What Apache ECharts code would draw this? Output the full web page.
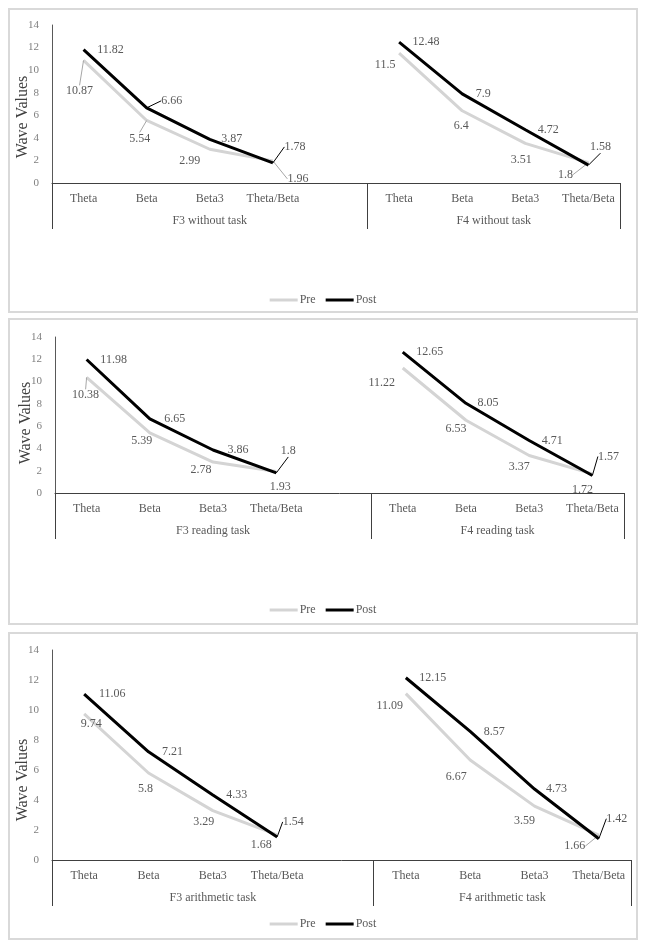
<!DOCTYPE html>
<html>
<head>
<meta charset="utf-8">
<script src="https://cdn.jsdelivr.net/npm/echarts@6/dist/echarts.min.js"></script>
<style>
  html, body { margin: 0; padding: 0; background: #fff; }
  body { width: 648px; height: 949px; position: relative; }
  .panel { position: absolute; left: 8px; width: 626px; border: 2px solid #d9d9d9; background: #fff; }
  #p1 { top: 8px; height: 301px; }
  #p2 { top: 318px; height: 303px; }
  #p3 { top: 632px; height: 304px; }
</style>
</head>
<body>
<div id="p1" class="panel"></div>
<div id="p2" class="panel"></div>
<div id="p3" class="panel"></div>
<script>
// ---- data ----
const waves = ['Theta', 'Beta', 'Beta3', 'Theta/Beta'];
const seriesNames = ['Pre', 'Post'];
const yAxisName = 'Wave Values';
const yMin = 0, yMax = 14, yStep = 2;

const groups1 = ['F3 without task', 'F4 without task'];
const pre1  = [10.87, 5.54, 2.99, 1.96, null, 11.5, 6.4, 3.51, 1.8];
const post1 = [11.82, 6.66, 3.87, 1.78, null, 12.48, 7.9, 4.72, 1.58];

const groups2 = ['F3 reading task', 'F4 reading task'];
const pre2  = [10.38, 5.39, 2.78, 1.93, null, 11.22, 6.53, 3.37, 1.72];
const post2 = [11.98, 6.65, 3.86, 1.8, null, 12.65, 8.05, 4.71, 1.57];

const groups3 = ['F3 arithmetic task', 'F4 arithmetic task'];
const pre3  = [9.74, 5.8, 3.29, 1.68, null, 11.09, 6.67, 3.59, 1.66];
const post3 = [11.06, 7.21, 4.33, 1.54, null, 12.15, 8.57, 4.73, 1.42];

// ---- label placement (pixel offsets from the point) and leader lines ----
const offsets = {
  p1: {
    pre:  [[-4,31],[-7,18],[-20,12],[25,18],null,[-14,12],[-1,15],[-4,16],[-23,12]],
    post: [[27,0],[25,-7],[22,0],[22,-16],null,[27,0],[21,0],[23,0],[12,-18]]
  },
  p2: {
    pre:  [[-1,18],[-8,8],[-12,8],[4,15],null,[-21,15],[-10,9],[-10,11],[-10,16]],
    post: [[27,0],[25,0],[25,0],[12,-22],null,[27,0],[22,0],[23,0],[16,-19]]
  },
  p3: {
    pre:  [[7,10],[-3,16],[-9,11],[-16,10],null,[-16,12],[-14,17],[-10,15],[-24,11]],
    post: [[28,0],[24,0],[24,0],[16,-15],null,[27,0],[24,0],[22,0],[18,-20]]
  }
};
const leaders = {
  p1: { pre: [0, 1, 3, 8], post: [1, 3, 8] },
  p2: { pre: [0], post: [3, 8] },
  p3: { pre: [8], post: [3, 8] }
};

const FONT = '"Liberation Serif", "Times New Roman", serif';
const TXT = '#595959';

function makeCats() {
  return waves.concat(['']).concat(waves);
}

function build(id, groups, pre, post, grid, offs, lead, nameShift) {
  const chart = echarts.init(document.getElementById(id), null, { renderer: 'canvas' });
  const cats = makeCats();
  const n = cats.length;
  const g1len = waves.length + 1;
  const mkData = (arr, ld) => arr.map((v, i) => {
    if (v === null) return null;
    return { value: v, labelLine: { show: ld.indexOf(i) >= 0 } };
  });
  const offList = [offs.pre, offs.post];
  const lineSeries = (name, arr, ld, color, leadColor, z) => ({
    name: name, type: 'line', xAxisIndex: 0,
    data: mkData(arr, ld),
    symbol: 'circle', symbolSize: 0.01, showSymbol: true, connectNulls: false,
    lineStyle: { color: color, width: 3 },
    itemStyle: { color: color },
    label: { show: true, position: 'inside', color: TXT, fontSize: 12, fontFamily: FONT },
    labelLine: { show: false, smooth: false, lineStyle: { color: leadColor, width: 1 } },
    labelLayout: function (p) {
      const o = offList[p.seriesIndex][p.dataIndex];
      return o ? { dx: o[0], dy: o[1] } : {};
    },
    emphasis: { disabled: true },
    z: z
  });
  const option = {
    animation: false,
    textStyle: { fontFamily: FONT },
    grid: Object.assign({ containLabel: false, outerBoundsMode: 'none' }, grid),
    legend: {
      data: seriesNames,
      top: 279,
      left: 'center',
      icon: 'rect',
      itemWidth: 28,
      itemHeight: 3,
      itemGap: 10,
      textStyle: { color: TXT, fontSize: 12, fontFamily: FONT, padding: [0, 0, 0, -3] }
    },
    xAxis: [
      {
        type: 'category',
        data: cats,
        boundaryGap: true,
        axisLine: { show: true, onZero: false, lineStyle: { color: '#404040', width: 1 } },
        axisTick: { show: false },
        axisLabel: { color: TXT, fontSize: 12, fontFamily: FONT, margin: 10, interval: 0 }
      },
      {
        type: 'value',
        min: 0,
        max: n,
        interval: 0.5,
        position: 'bottom',
        axisLine: { show: false, onZero: false },
        splitLine: { show: false },
        axisTick: {
          show: true,
          customValues: [0, g1len, n],
          length: 46,
          lineStyle: { color: '#404040', width: 1 }
        },
        axisLabel: {
          show: true,
          customValues: [g1len / 2, g1len + waves.length / 2],
          formatter: function (v) {
            if (Math.abs(v - g1len / 2) < 1e-6) return groups[0];
            if (Math.abs(v - (g1len + waves.length / 2)) < 1e-6) return groups[1];
            return '';
          },
          color: TXT, fontSize: 12, fontFamily: FONT, margin: 32
        }
      }
    ],
    yAxis: {
      type: 'value',
      min: yMin, max: yMax, interval: yStep,
      name: yAxisName,
      nameLocation: 'middle',
      nameRotate: 90,
      nameGap: 21,
      nameMoveOverlap: false,
      nameTextStyle: { color: '#404040', fontSize: 16, fontFamily: FONT, padding: [0, 2 * nameShift, 0, 0] },
      axisLine: { show: true, lineStyle: { color: '#595959', width: 1 } },
      axisTick: { show: false },
      splitLine: { show: false },
      axisLabel: { color: '#7f7f7f', fontSize: 11, fontFamily: FONT, margin: 13 }
    },
    series: [
      lineSeries(seriesNames[0], pre, lead.pre, '#d4d4d4', '#a6a6a6', 2),
      lineSeries(seriesNames[1], post, lead.post, '#000000', '#000000', 3)
    ]
  };
  chart.setOption(option);
}

build('p1', groups1, pre1, post1, { left: 42, right: 16, top: 15, bottom: 128 }, offsets.p1, leaders.p1, 13);
build('p2', groups2, pre2, post2, { left: 45, right: 12, top: 17, bottom: 130 }, offsets.p2, leaders.p2, 8);
build('p3', groups3, pre3, post3, { left: 42, right: 5, top: 16, bottom: 78 }, offsets.p3, leaders.p3, 25);
</script>
</body>
</html>
